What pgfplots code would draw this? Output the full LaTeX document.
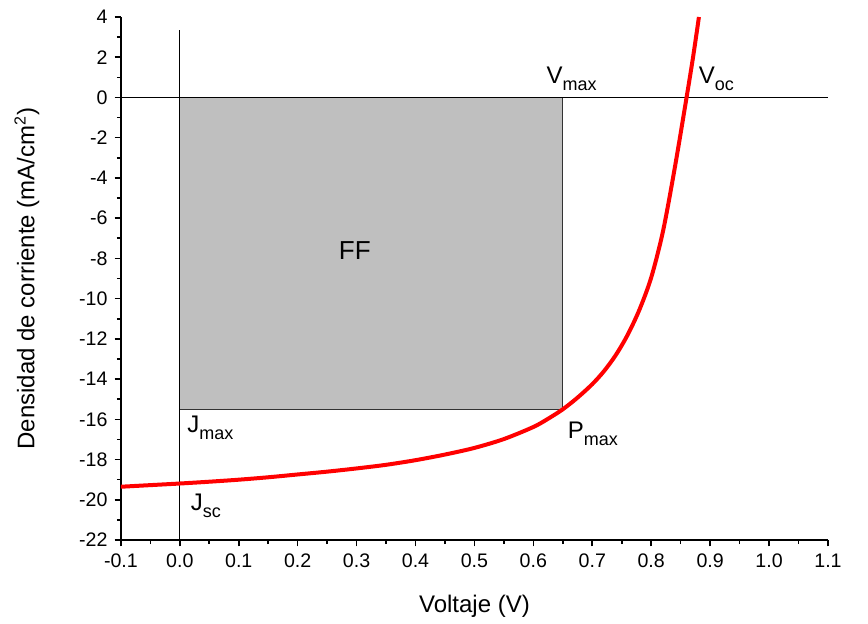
\documentclass[border=0pt]{standalone}
\usepackage{fontspec}
\setmainfont{Liberation Sans}
\usepackage{pgfplots}
\pgfplotsset{compat=1.18}
\newcommand{\sub}[1]{\raisebox{-0.55ex}{\fontsize{9}{10}\selectfont #1}}

\begin{document}
\begin{tikzpicture}
\begin{axis}[
  scale only axis,
  width=353.5pt,
  height=261.5pt,
  xmin=-0.1, xmax=1.1,
  ymin=-22, ymax=4,
  axis x line*=bottom,
  axis y line*=left,
  xtick={-0.1,0,...,1.1},
  ytick={-22,-20,...,4},
  minor x tick num=1,
  minor y tick num=1,
  tick align=outside,
  major tick length=3.2pt,
  minor tick length=2pt,
  every tick/.style={black, line width=0.8pt},
  axis line style={line width=0.9pt},
  /pgf/number format/assume math mode=true,
  xticklabel style={/pgf/number format/.cd, fixed, fixed zerofill, precision=1},
  ticklabel style={font=\fontsize{9.8}{11}\selectfont},
  xlabel={Voltaje (V)},
  ylabel={Densidad de corriente (mA/cm\textsuperscript{2})},
  label style={font=\fontsize{12}{13}\selectfont},
  xlabel style={at={(axis description cs:0.5,-0.126)}, anchor=center},
  ylabel style={at={(axis description cs:-0.133,0.5)}, anchor=center},
  clip=false,
]
% invisible frame for the page proportions
\path (rel axis cs:-0.171,-0.1587) rectangle (rel axis cs:1.0566,1.0325);

% FF rectangle and reference lines
\addplot[draw=black!80, line width=0.6pt, fill=black!25] coordinates {
  (0,0) (0.65,0) (0.65,-15.5) (0,-15.5) (0,0)
};
\addplot[black, line width=0.6pt] coordinates {(-0.1,0) (1.1,0)};
\addplot[black, line width=0.6pt] coordinates {(0,-22) (0,3.35)};

% J-V curve
\addplot[red, line width=2pt, smooth] coordinates {
  (-0.1,-19.35) (-0.05,-19.27) (0,-19.19) (0.05,-19.1) (0.1,-19.0)
  (0.15,-18.88) (0.2,-18.74) (0.25,-18.6) (0.3,-18.44) (0.35,-18.26)
  (0.4,-18.03) (0.45,-17.75) (0.5,-17.42) (0.55,-16.98) (0.6,-16.38)
  (0.625,-15.97) (0.65,-15.5) (0.675,-14.92) (0.7,-14.25) (0.72,-13.6)
  (0.74,-12.8) (0.76,-11.8) (0.78,-10.55) (0.8,-8.95) (0.82,-6.65)
  (0.84,-3.5) (0.86,0) (0.871,2.0) (0.881,4.0)
};

\node[anchor=center, font=\fontsize{13}{14}\selectfont] at (axis cs:0.297,-7.6) {FF};
\node[anchor=south west, inner sep=0pt, font=\fontsize{12}{13}\selectfont] at (axis cs:0.622,0.3) {V\sub{max}};
\node[anchor=south west, inner sep=0pt, font=\fontsize{12}{13}\selectfont] at (axis cs:0.88,0.3) {V\sub{oc}};
\node[anchor=north west, inner sep=0pt, font=\fontsize{12}{13}\selectfont] at (axis cs:0.012,-15.8) {J\sub{max}};
\node[anchor=north west, inner sep=0pt, font=\fontsize{12}{13}\selectfont] at (axis cs:0.658,-16.1) {P\sub{max}};
\node[anchor=north west, inner sep=0pt, font=\fontsize{12}{13}\selectfont] at (axis cs:0.018,-19.7) {J\sub{sc}};
\end{axis}
\end{tikzpicture}
\end{document}
